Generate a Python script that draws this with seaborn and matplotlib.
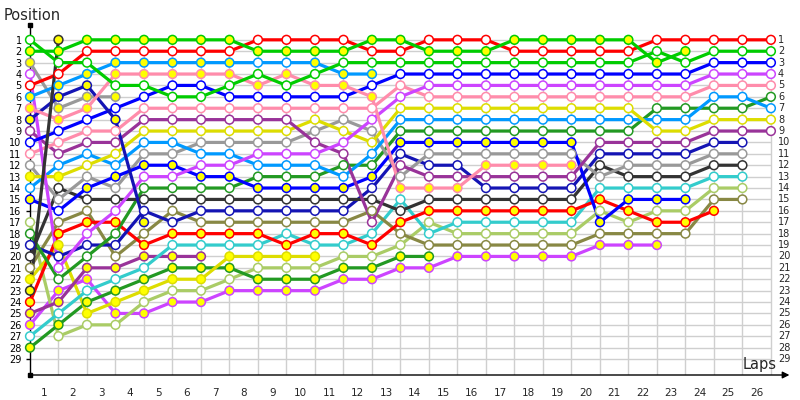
import matplotlib
matplotlib.use("Agg")
import matplotlib.pyplot as plt
import numpy as np
import seaborn as sns

# running position of every car, index 0 = grid, index k = after lap k
green_a = [2, 2, 1, 1, 1, 1, 1, 1, 2, 2, 2, 2, 1, 1, 2, 2, 2, 1, 1, 1, 1, 1, 3, 2]
green_b = [1, 3, 3, 5, 5, 6, 6, 5, 4, 5, 4, 3, 3, 3, 3, 3, 3, 3, 3, 3, 3, 3, 2, 3, 2, 2, 2]
red_a = [5, 4, 2, 2, 2, 2, 2, 2, 1, 1, 1, 1, 2, 2, 1, 1, 1, 2, 2, 2, 2, 2, 1, 1, 1, 1, 1]
red_b = [24, 18, 17, 17, 19, 18, 18, 18, 18, 19, 18, 18, 19, 17, 16, 16, 16, 16, 16, 16, 15, 16, 17, 17, 16]
lblue_a = [6, 5, 4, 3, 3, 3, 3, 3, 3, 3, 3, 4, 4]
lblue_b = [14, 12, 11, 12, 10, 10, 11, 11, 12, 12, 12, 13, 11, 8, 8, 8, 8, 8, 8, 8, 8, 8, 8, 8, 6, 6, 7]
pink_a = [11, 10, 9, 9, 7, 7, 7, 7, 7, 7, 7, 7, 7, 5, 6, 6, 6, 6, 6, 6, 6, 6, 6, 6, 5, 5, 5]
pink_b = [7, 8, 7, 4, 4, 4, 4, 4, 5, 4, 5, 5, 6, 14, 14, 14, 12, 12, 12, 12]
blue_a = [10, 9, 8, 7, 6, 5, 5, 6, 6, 6, 6, 6, 5, 4, 4, 4, 4, 4, 4, 4, 4, 4, 4, 4, 3, 3, 3]
blue_b = [15, 16, 14, 13, 12, 12, 13, 13, 14, 14, 14, 14, 13, 10, 10, 10, 10, 10, 10, 10, 17, 15, 15, 15]
navy_a = [19, 20, 19, 19, 16, 17, 16, 16, 16, 16, 16, 16, 14, 11, 12, 12, 14, 14, 14, 14, 11, 11, 11, 11, 10, 10]
navy_b = [8, 6, 5, 8, 17]
purple_a = [9, 11, 10, 10, 8, 8, 8, 8, 8, 8, 10, 11, 17, 12, 13, 13, 13, 13, 13, 13, 10, 10, 10, 10, 9, 9, 9]
purple_b = [25, 24, 21, 21, 20, 20, 20]
yellow_a = [13, 13, 12, 11, 9, 9, 9, 9, 9, 9, 8, 9, 10, 7, 7, 7, 7, 7, 7, 7, 7, 7, 9, 9, 8, 8, 8]
yellow_b = [22, 19, 25, 24, 23, 22, 22, 20, 20, 20, 20]
gray_a = [12, 15, 13, 14, 11, 11, 10, 10, 10, 10, 9, 8, 9, 13, 11, 11, 11, 11, 11, 11, 13, 12, 12, 12, 11, 11]
gray_b = [3, 7, 6, 6]
dkgray_a = [20, 14, 15, 15, 15, 15, 15, 15, 15, 15, 15, 15, 15, 16, 15, 15, 15, 15, 15, 15, 12, 13, 13, 13, 12, 12]
dkgray_b = [23, 1]
violet_a = [4, 21, 18, 16, 13, 13, 12, 12, 11, 11, 11, 10, 8, 6, 5, 5, 5, 5, 5, 5, 5, 5, 5, 5, 4, 4, 4]
violet_b = [26, 23, 22, 25, 25, 24, 24, 23, 23, 23, 23, 22, 22, 21, 21, 20, 20, 20, 20, 20, 19, 19, 19]
forest_a = [18, 22, 20, 18, 14, 14, 14, 14, 13, 13, 13, 12, 12, 9, 9, 9, 9, 9, 9, 9, 9, 9, 7, 7, 7, 7, 6]
forest_b = [28, 26, 24, 23, 22, 21, 21, 21, 22, 22, 22, 21, 21, 20, 20]
olive = [21, 17, 16, 20, 18, 16, 17, 17, 17, 17, 17, 17, 16, 18, 19, 19, 19, 19, 19, 19, 18, 18, 18, 18, 15, 15]
cyan = [27, 25, 23, 22, 21, 19, 19, 19, 19, 18, 19, 19, 18, 15, 18, 17, 17, 17, 17, 17, 14, 14, 14, 14, 13, 13]
lgreen = [17, 27, 26, 26, 24, 23, 23, 22, 21, 21, 21, 20, 20, 19, 17, 18, 18, 18, 18, 18, 16, 17, 16, 16, 14, 14]

# car, positions, line colour, usual marker fill ("w" white / "y" yellow)
cars = [
    ("violet_b", violet_b, "#cc44ff", "y"),
    ("lgreen", lgreen, "#aacc66", "w"),
    ("forest_b", forest_b, "#229922", "y"),
    ("yellow_b", yellow_b, "#dddd00", "y"),
    ("purple_b", purple_b, "#993399", "y"),
    ("cyan", cyan, "#33cccc", "w"),
    ("olive", olive, "#888844", "w"),
    ("red_b", red_b, "#ff0000", "y"),
    ("navy_a", navy_a, "#1414b4", "w"),
    ("forest_a", forest_a, "#229922", "w"),
    ("dkgray_a", dkgray_a, "#333333", "w"),
    ("gray_a", gray_a, "#999999", "w"),
    ("blue_b", blue_b, "#0000ff", "y"),
    ("lblue_b", lblue_b, "#0099ff", "w"),
    ("yellow_a", yellow_a, "#dddd00", "w"),
    ("purple_a", purple_a, "#993399", "w"),
    ("pink_a", pink_a, "#ff8cab", "w"),
    ("violet_a", violet_a, "#cc44ff", "w"),
    ("blue_a", blue_a, "#0000ff", "w"),
    ("gray_b", gray_b, "#999999", "y"),
    ("navy_b", navy_b, "#1414b4", "y"),
    ("pink_b", pink_b, "#ff8cab", "y"),
    ("lblue_a", lblue_a, "#0099ff", "y"),
    ("red_a", red_a, "#ff0000", "w"),
    ("green_b", green_b, "#00cc00", "w"),
    ("green_a", green_a, "#00cc00", "y"),
    ("dkgray_b", dkgray_b, "#333333", "y"),
]
# laps where a car's marker has the other fill
swapped = {"lblue_a": [8, 9], "blue_b": [1], "yellow_a": [0, 1]}

n_laps = 26
n_pos = 29
lap_ticks = list(range(1, n_laps + 1))

sns.set_style("white")
plt.rcParams["font.family"] = ["DejaVu Sans"]

fig = plt.figure(figsize=(8, 4), dpi=100)
ax = fig.add_axes([0.0375, 0.0625, 0.95, 0.875])
ax.set_xlim(0, 26.67)
ax.set_ylim(30.4, -0.3)

# grid
ax.hlines(range(1, n_pos + 1), 0, n_laps, color="#cfcfcf", lw=1, zorder=0)
ax.vlines(lap_ticks, 1, 30.4, color="#cfcfcf", lw=1, zorder=0)

for name, pos, col, fill in cars:
    laps = list(range(len(pos)))
    sns.lineplot(x=laps, y=pos, color=col, linewidth=2.3, ax=ax,
                 estimator=None, sort=False, zorder=2)
    other = "w" if fill == "y" else "y"
    fills = [other if i in swapped.get(name, []) else fill for i in laps]
    fills = ["#ffff00" if f == "y" else "white" for f in fills]
    sns.scatterplot(x=laps, y=pos, facecolor=fills, edgecolor=col, s=40,
                    linewidth=1.1, ax=ax, zorder=3, clip_on=False)

# axes drawn as arrows
for s in ax.spines.values():
    s.set_visible(False)
ax.plot([0, 0], [30.4, -0.3], color="black", lw=1, clip_on=False, zorder=1)
ax.plot([0], [-0.3], marker="s", ms=3, color="black", clip_on=False)
ax.plot([0], [30.4], marker="s", ms=3, color="black", clip_on=False)
ax.annotate("", xy=(26.65, 30.4), xytext=(0, 30.4),
            arrowprops=dict(arrowstyle="-|>", color="black", lw=1,
                            mutation_scale=10, shrinkA=0, shrinkB=0),
            annotation_clip=False)

ax.set_yticks(range(1, n_pos + 1))
ax.set_yticklabels([str(p) for p in range(1, n_pos + 1)], fontsize=7)
ax.tick_params(axis="y", left=True, length=3, width=1, pad=3, colors="black")
ax.set_xticks(np.array(lap_ticks) - 0.5)
ax.set_xticklabels([str(l) for l in lap_ticks], fontsize=7.5)
ax.tick_params(axis="x", length=0, pad=9)
for p in range(1, n_pos + 1):
    ax.text(26.25, p, str(p), fontsize=7, va="center", ha="left")

fig.text(0.005, 0.962, "Position", fontsize=10.5, va="center", ha="left")
fig.text(0.928, 0.09, "Laps", fontsize=10.5, va="center", ha="left")

fig.savefig("out.png", dpi=100)
